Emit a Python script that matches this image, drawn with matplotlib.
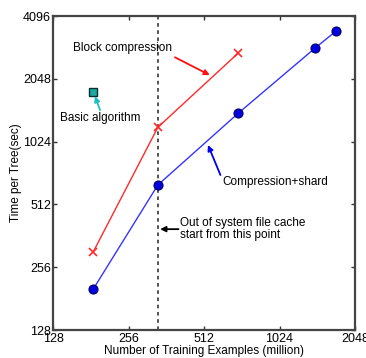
import numpy as np
import matplotlib.pyplot as plt

# data (million examples, seconds per tree)
shard_x = [185, 335, 700, 1420, 1720]
shard_y = [201, 635, 1400, 2880, 3470]
block_x = [185, 335, 700]
block_y = [303, 1200, 2720]
basic_x = [185]
basic_y = [1770]
cache_x = 335
ticks = [128, 256, 512, 1024, 2048, 4096]

plt.rcParams['font.family'] = ['Liberation Sans', 'DejaVu Sans']
fig = plt.figure(figsize=(3.66, 3.58), dpi=100)
ax = fig.add_axes([0.145, 0.078, 0.825, 0.877])

ax.axvline(cache_x, color='#444444', ls=(0, (2, 2)), lw=1.3, zorder=1)
ax.plot(block_x, block_y, color='#ff2a2a', lw=1, marker='x', ms=6, mew=1.2, zorder=3)
ax.plot(shard_x, shard_y, color='#3535ff', lw=1, marker='o', ms=6.5,
        mfc='#0000e0', mec='#000060', mew=0.8, zorder=3)
ax.plot(basic_x, basic_y, ls='none', marker='s', ms=6, mfc='#1fa8a0', mec='#003333', mew=1, zorder=3)

ax.set_xscale('log', base=2)
ax.set_yscale('log', base=2)
ax.set_xlim(128, 2048)
ax.set_ylim(128, 4096)
ax.set_xticks(ticks[:-1])
ax.set_xticklabels([str(t) for t in ticks[:-1]])
ax.set_yticks(ticks)
ax.set_yticklabels([str(t) for t in ticks])
ax.minorticks_off()
ax.tick_params(direction='in', top=True, right=True, length=3, width=1, labelsize=9,
               color='#333333', pad=1.5)
ax.tick_params(axis='x', pad=2)
for s in ax.spines.values():
    s.set_linewidth(1.6)
    s.set_color('#444444')

ax.set_xlabel('Number of Training Examples (million)', fontsize=8.5, labelpad=0)
ax.set_ylabel('Time per Tree(sec)', fontsize=8.5, labelpad=1)

arrow = dict(arrowstyle='-|>', lw=1.3, mutation_scale=8, shrinkA=0, shrinkB=0)
ax.text(154, 2876, 'Block compression', fontsize=8.5, va='center')
ax.annotate('', xy=(540, 2135), xytext=(392, 2600), arrowprops=dict(arrow, color='#ff1010'))
ax.text(136.5, 1328, 'Basic algorithm', fontsize=8.5, va='center')
ax.annotate('', xy=(188, 1694), xytext=(197, 1452), arrowprops=dict(arrow, color='#20c0c0'))
ax.text(604, 656, 'Compression+shard', fontsize=8.5, va='center')
ax.annotate('', xy=(531, 987), xytext=(595, 709), arrowprops=dict(arrow, color='#0000ee'))
ax.text(411, 390, 'Out of system file cache\nstart from this point', fontsize=8.5,
        va='center', linespacing=1.05)
ax.annotate('', xy=(342, 390), xytext=(405, 390), arrowprops=dict(arrow, color='black'))

fig.savefig('out.png', dpi=100)
